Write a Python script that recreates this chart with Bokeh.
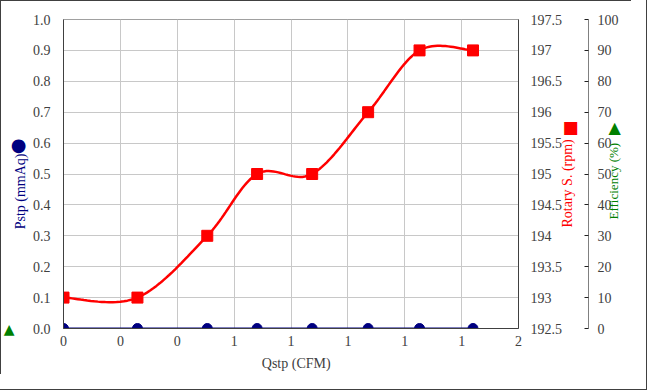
import numpy as np
from bokeh.plotting import figure
from bokeh.models import (Range1d, LinearAxis, FixedTicker, NumeralTickFormatter,
                          CustomJSTickFormatter)
from bokeh.embed import file_html
from bokeh.resources import INLINE

# ---- data ----
qstp = [0.0, 0.325, 0.632, 0.851, 1.093, 1.339, 1.565, 1.80]
pstp = [0.0, 0.0, 0.0, 0.0, 0.0, 0.0, 0.0, 0.0]
rotary = [193.0, 193.0, 194.0, 195.0, 195.0, 196.0, 197.0, 197.0]
efficiency = [0.0]                # the single efficiency marker, shown left of the plot
x_ticks = [0.0, 0.25, 0.5, 0.75, 1.0, 1.25, 1.5, 1.75, 2.0]
x_tick_labels = ["0", "0", "0", "1", "1", "1", "1", "1", "2"]
pstp_ticks = [0.0, 0.1, 0.2, 0.3, 0.4, 0.5, 0.6, 0.7, 0.8, 0.9, 1.0]
rot_ticks = [192.5, 193.0, 193.5, 194.0, 194.5, 195.0, 195.5, 196.0, 196.5, 197.0, 197.5]
eff_ticks = [0, 10, 20, 30, 40, 50, 60, 70, 80, 90, 100]
x_title = "Qstp (CFM)"
pstp_title = "Pstp (mmAq)"
rot_title = "Rotary S. (rpm)"
eff_title = "Efficiency (%)"

FONT = "Liberation Serif"
SYM = "DejaVu Sans"
TXT = "#404040"
NAVY = "#000080"
RED = "#FF0000"
GREEN = "#008000"
NB = "\u00a0"
VERT = float(np.pi / 2)

# layout (canvas pixels): frame y 19..328
FT, FB = 19, 328
X_R, PSTP_R, ROT_R, EFF_R = (0.0, 2.0), (0.0, 1.0), (192.5, 197.5), (0.0, 100.0)


def y_at(ypix, rng):
    """range value at a canvas pixel row (only used to place titles / legend keys)"""
    lo, hi = rng
    return lo + (FB - ypix) / (FB - FT) * (hi - lo)


def smooth(xs, ys, n=24):
    P = np.column_stack([xs, ys]).astype(float)
    out = [P[0]]
    t = np.linspace(0, 1, n)[1:, None]
    for i in range(len(P) - 1):
        p0 = P[i - 1] if i > 0 else P[i]
        p1, p2 = P[i], P[i + 1]
        p3 = P[i + 2] if i + 2 < len(P) else P[i + 1]
        c1 = p1 + (p2 - p0) / 6.0
        c2 = p2 - (p3 - p1) / 6.0
        seg = (1 - t) ** 3 * p1 + 3 * (1 - t) ** 2 * t * c1 + 3 * (1 - t) * t ** 2 * c2 + t ** 3 * p2
        out.extend(seg)
    out = np.array(out)
    return out[:, 0], out[:, 1]


p = figure(width=631, height=374, x_range=Range1d(*X_R), y_range=Range1d(*PSTP_R),
           output_backend="svg", toolbar_location=None,
           min_border_left=63, min_border_right=113, min_border_top=19, min_border_bottom=46)
p.styles = {"box-shadow": "inset 1px 1px 0 0 #404040, 7px 7px 0 8px white, 8px 8px 0 8px #404040"}
p.extra_y_ranges = {"rot": Range1d(*ROT_R), "eff": Range1d(*EFF_R)}
p.outline_line_color = "#a0a0a0"
p.background_fill_color = "white"
p.border_fill_color = None

# grids
p.xgrid.ticker = FixedTicker(ticks=x_ticks)
p.ygrid.ticker = FixedTicker(ticks=pstp_ticks)
p.grid.grid_line_color = "#c8c8c8"
p.grid.grid_line_width = 1

# x axis
xa = p.xaxis[0]
xa.ticker = FixedTicker(ticks=x_ticks)
xa.formatter = CustomJSTickFormatter(args=dict(labels=x_tick_labels), code="return labels[index];")
xa.axis_label = NB * 3 + x_title

# left axis
ya = p.yaxis[0]
ya.ticker = FixedTicker(ticks=pstp_ticks)
ya.formatter = NumeralTickFormatter(format="0.0")

# right axes (the rotary axis label is transparent: it only reserves the gap before the efficiency axis)
ra = LinearAxis(y_range_name="rot", ticker=FixedTicker(ticks=rot_ticks),
                formatter=NumeralTickFormatter(format="0.[0]"), axis_label=rot_title)
p.add_layout(ra, "right")
ea = LinearAxis(y_range_name="eff", ticker=FixedTicker(ticks=eff_ticks),
                formatter=NumeralTickFormatter(format="0"))
p.add_layout(ea, "right")
if "axis_label_orientation" in LinearAxis.properties():
    ra.axis_label_orientation = VERT

for ax in [xa, ya, ra]:
    ax.axis_line_color = "#404040"
    ax.major_tick_out = 0
    ax.major_tick_in = 0
    ax.minor_tick_line_color = None
for ax in [xa, ya, ra, ea]:
    ax.major_label_text_font = FONT
    ax.major_label_text_font_size = "14px"
    ax.major_label_text_color = TXT
    ax.axis_label_text_font = FONT
    ax.axis_label_text_font_size = "14px"
    ax.axis_label_text_font_style = "normal"
    ax.axis_label_text_color = TXT
ra.axis_label_text_alpha = 0.0
xa.major_label_standoff = 7
xa.axis_label_standoff = 7
ya.major_label_standoff = 13
ra.major_label_standoff = 12
ra.axis_label_standoff = 5
ea.axis_line_color = "#808080"
ea.major_tick_line_color = "#202020"
ea.major_tick_in = 4
ea.major_tick_out = 0
ea.minor_tick_line_color = None
ea.major_label_standoff = 9


def key_axis(side, rng_name, ticks, text, color, font, size, standoff, orient=None):
    """an axis that only shows a label (a title or a legend key) outside the frame"""
    ax = LinearAxis(y_range_name=rng_name, ticker=FixedTicker(ticks=list(ticks)),
                    formatter=CustomJSTickFormatter(args=dict(t=text), code="return t;"))
    ax.axis_line_color = None
    ax.major_tick_line_color = None
    ax.minor_tick_line_color = None
    ax.major_tick_out = 0
    ax.major_tick_in = 0
    ax.major_label_standoff = standoff
    ax.major_label_text_font = font
    ax.major_label_text_font_size = size
    ax.major_label_text_color = color
    if orient is not None:
        ax.major_label_orientation = orient
    p.add_layout(ax, side)
    return ax


# left: Pstp title, stray efficiency marker, Pstp legend key
key_axis("left", "default", [y_at(153, PSTP_R)], pstp_title, NAVY, FONT, "14px", 9, VERT)
key_axis("left", "eff", efficiency, "\u25b2", GREEN, SYM, "14px", -12)
key_axis("left", "default", [y_at(144, PSTP_R)], "\u25cf", NAVY, SYM, "18px", -26)
# right: efficiency title, legend keys and the rotary title
key_axis("right", "eff", [y_at(219, EFF_R)], eff_title, GREEN, FONT, "13px", -8, VERT)
key_axis("right", "eff", [y_at(127, EFF_R)], "\u25b2", GREEN, SYM, "16px", -23)
key_axis("right", "rot", [y_at(126, ROT_R)], "\u25a0", RED, SYM, "17px", -69)
key_axis("right", "rot", [y_at(227, ROT_R)], rot_title, RED, FONT, "14px", -64, VERT)

# series
sx, sy = smooth(qstp, rotary)
p.line(sx, sy, y_range_name="rot", line_color=RED, line_width=2.5)
p.scatter(qstp, rotary, y_range_name="rot", marker="square", size=11,
          fill_color=RED, line_color=RED)
p.line(qstp, pstp, line_color=NAVY, line_width=2)
p.scatter(qstp, pstp, marker="circle", size=10, fill_color=NAVY, line_color=NAVY)

open("out.html", "w").write(file_html(p, INLINE))
